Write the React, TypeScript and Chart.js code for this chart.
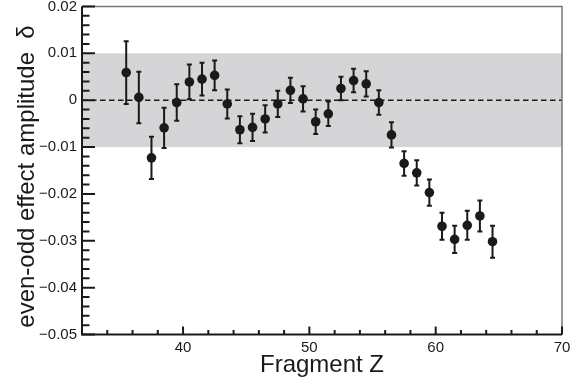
import React, { useEffect, useRef } from "react";
import { Chart, registerables } from "chart.js";

Chart.register(...registerables);

// Fragment charge (bin centres) and the measured even-odd amplitude with its uncertainty
const fragmentZ = [
  35.5, 36.5, 37.5, 38.5, 39.5, 40.5, 41.5, 42.5, 43.5, 44.5,
  45.5, 46.5, 47.5, 48.5, 49.5, 50.5, 51.5, 52.5, 53.5, 54.5,
  55.5, 56.5, 57.5, 58.5, 59.5, 60.5, 61.5, 62.5, 63.5, 64.5,
];
const amplitude = [
  0.0059, 0.0006, -0.0123, -0.0059, -0.0005, 0.0039, 0.0045, 0.0053, -0.0008, -0.0063,
  -0.0058, -0.004, -0.0008, 0.0021, 0.0003, -0.0046, -0.0029, 0.0025, 0.0042, 0.0035,
  -0.0005, -0.0074, -0.0135, -0.0155, -0.0197, -0.0269, -0.0297, -0.0267, -0.0247, -0.0302,
];
const amplitudeError = [
  0.0067, 0.0055, 0.0045, 0.0043, 0.0039, 0.0037, 0.0035, 0.0032, 0.0031, 0.0029,
  0.0029, 0.0029, 0.0028, 0.0027, 0.0027, 0.0026, 0.0026, 0.0025, 0.0025, 0.0027,
  0.0026, 0.0027, 0.0026, 0.0027, 0.0028, 0.0029, 0.0029, 0.0031, 0.0033, 0.0034,
];

// Axis ranges and labelled ticks
const xRange = [32, 70];
const yRange = [-0.05, 0.02];
const xTickLabels = [40, 50, 60, 70];
const yTickLabels = [0.02, 0.01, 0, -0.01, -0.02, -0.03, -0.04, -0.05];
// Shaded ±1% band and the zero reference
const bandLimits = [-0.01, 0.01];
const referenceLevel = 0;

const xTitle = "Fragment Z";
const yTitle = "even-odd effect amplitude  \u03B4";

const FONT = '"Liberation Sans", Arial, Helvetica, sans-serif';
const INK = "#1a1a1a";

function formatY(v: number): string {
  if (Math.abs(v) < 1e-9) return "0";
  const s = Math.abs(v).toFixed(2);
  return v < 0 ? "\u2212" + s : s;
}

const decorations = {
  id: "decorations",
  beforeDatasetsDraw(chart: any) {
    const { ctx, chartArea: a, scales } = chart;
    const xs = scales.x;
    const ys = scales.y;
    ctx.save();
    // grey band
    const yTop = ys.getPixelForValue(bandLimits[1]);
    const yBot = ys.getPixelForValue(bandLimits[0]);
    ctx.fillStyle = "#d5d5d7";
    ctx.fillRect(a.left, yTop, a.right - a.left, yBot - yTop);
    // dashed zero line
    const y0 = ys.getPixelForValue(referenceLevel);
    ctx.strokeStyle = INK;
    ctx.lineWidth = 1.5;
    ctx.setLineDash([5.5, 3.5]);
    ctx.beginPath();
    ctx.moveTo(a.left, y0);
    ctx.lineTo(a.right, y0);
    ctx.stroke();
    ctx.setLineDash([]);
    // error bars
    ctx.lineWidth = 2;
    ctx.strokeStyle = INK;
    fragmentZ.forEach((z, i) => {
      const px = xs.getPixelForValue(z);
      const hi = ys.getPixelForValue(amplitude[i] + amplitudeError[i]);
      const lo = ys.getPixelForValue(amplitude[i] - amplitudeError[i]);
      ctx.beginPath();
      ctx.moveTo(px, hi);
      ctx.lineTo(px, lo);
      ctx.moveTo(px - 2.5, hi);
      ctx.lineTo(px + 2.5, hi);
      ctx.moveTo(px - 2.5, lo);
      ctx.lineTo(px + 2.5, lo);
      ctx.stroke();
    });
    ctx.restore();
  },
  afterDatasetsDraw(chart: any) {
    const { ctx, chartArea: a, scales } = chart;
    const xs = scales.x;
    const ys = scales.y;
    ctx.save();
    // thin grey frame on top and right
    ctx.strokeStyle = "#777777";
    ctx.lineWidth = 1.5;
    ctx.beginPath();
    ctx.moveTo(a.left, a.top);
    ctx.lineTo(a.right, a.top);
    ctx.lineTo(a.right, a.bottom);
    ctx.stroke();
    // heavy left and bottom axes
    ctx.strokeStyle = INK;
    ctx.lineWidth = 2;
    ctx.beginPath();
    ctx.moveTo(a.left, a.top);
    ctx.lineTo(a.left, a.bottom);
    ctx.lineTo(a.right, a.bottom);
    ctx.stroke();
    // inward ticks
    ctx.lineWidth = 2;
    ctx.beginPath();
    xs.ticks.forEach((t: any) => {
      const major = Math.abs(t.value / 10 - Math.round(t.value / 10)) < 1e-6;
      const px = xs.getPixelForValue(t.value);
      ctx.moveTo(px, a.bottom);
      ctx.lineTo(px, a.bottom - (major ? 8 : 4.5));
    });
    ys.ticks.forEach((t: any) => {
      const major = Math.abs(t.value * 100 - Math.round(t.value * 100)) < 1e-6;
      const py = ys.getPixelForValue(t.value);
      ctx.moveTo(a.left, py);
      ctx.lineTo(a.left + (major ? 13 : 7.5), py);
    });
    ctx.stroke();
    // tick labels
    ctx.fillStyle = INK;
    ctx.font = `15px ${FONT}`;
    ctx.textAlign = "center";
    ctx.textBaseline = "middle";
    xTickLabels.forEach((v) => {
      ctx.fillText(String(v), xs.getPixelForValue(v), a.bottom + 13);
    });
    ctx.textAlign = "right";
    yTickLabels.forEach((v) => {
      ctx.fillText(formatY(v), a.left - 5, ys.getPixelForValue(v));
    });
    // axis titles
    ctx.font = `24px ${FONT}`;
    ctx.textAlign = "center";
    ctx.textBaseline = "alphabetic";
    ctx.fillText(xTitle, (a.left + a.right) / 2, 372);
    ctx.translate(33.5, 176.5);
    ctx.rotate(-Math.PI / 2);
    ctx.fillText(yTitle, 0, 0);
    ctx.restore();
  },
};

export default function App() {
  const canvasRef = useRef<HTMLCanvasElement | null>(null);

  useEffect(() => {
    const canvas = canvasRef.current;
    if (!canvas) return;
    const chart = new Chart(canvas, {
      type: "scatter",
      data: {
        datasets: [
          {
            data: fragmentZ.map((z, i) => ({ x: z, y: amplitude[i] })),
            backgroundColor: INK,
            borderWidth: 0,
            pointRadius: 4.8,
            pointHoverRadius: 4.8,
          },
        ],
      },
      options: {
        responsive: false,
        devicePixelRatio: 1,
        animation: false,
        events: [],
        layout: { padding: { left: 82, top: 6.5, right: 10, bottom: 45.5 } },
        plugins: {
          legend: { display: false },
          tooltip: { enabled: false },
        },
        scales: {
          x: {
            type: "linear",
            display: false,
            min: xRange[0],
            max: xRange[1],
            ticks: { stepSize: 2, autoSkip: false },
          },
          y: {
            type: "linear",
            display: false,
            min: yRange[0],
            max: yRange[1],
            ticks: { stepSize: 0.002, autoSkip: false },
          },
        },
      },
      plugins: [decorations],
    });
    return () => chart.destroy();
  }, []);

  return (
    <div style={{ position: "fixed", left: 0, top: 0, width: 572, height: 380, background: "#fff" }}>
      <canvas ref={canvasRef} width={572} height={380} />
    </div>
  );
}
